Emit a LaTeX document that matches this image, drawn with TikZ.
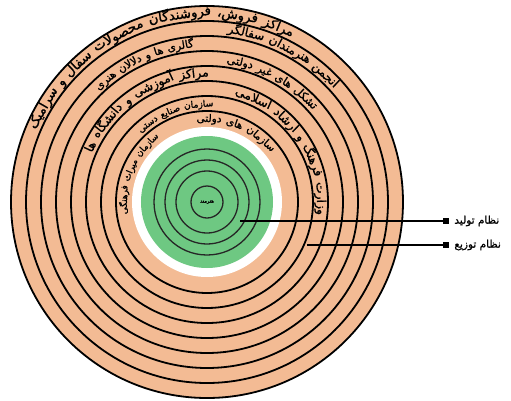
\documentclass[tikz,border=0pt]{standalone}
\usepackage{fontspec}
\newfontfamily\arabicfont[Script=Arabic,FakeBold=1.2]{DejaVu Sans}
\TeXXeTstate=1
\usepackage{tikz}
\usetikzlibrary{positioning}

\definecolor{ringfill}{RGB}{243,187,148}
\definecolor{corefill}{RGB}{110,200,130}

\newcommand\wordfont{\arabicfont\fontsize{8}{9}\selectfont}
\newcommand\wgap{3}
\newbox\wordbox
% word widths of one label, taken outside the picture: name, words
\newcommand\measurelabel[2]{%
  \xdef\sumwd{0}%
  \foreach \w [count=\i] in {#2}{%
    \setbox\wordbox=\hbox{\wordfont\beginR\w\endR}%
    \expandafter\xdef\csname #1wd\i\endcsname{\the\wd\wordbox}%
    \pgfmathsetmacro\wtmp{\sumwd+\the\wd\wordbox+\wgap}%
    \xdef\sumwd{\wtmp}}%
  \expandafter\xdef\csname #1sum\endcsname{\sumwd}}
% words of one label set along an arc: name, radius, start angle, end angle, words
\newcommand\arclabel[5]{%
  \pgfmathsetmacro\fitscale{((#4)-(#3))*pi/180*(#2)/\csname #1sum\endcsname}%
  \xdef\curang{#3}%
  \foreach \w [count=\i] in {#5}{%
    \pgfmathsetmacro\whalf{(\csname #1wd\i\endcsname+\wgap)*\fitscale/2/(#2)*180/pi}%
    \pgfmathsetmacro\wmid{\curang+\whalf}%
    \node[word,rotate=\wmid-90,scale=\fitscale] (#1-\i) at (\wmid:#2) {\beginR\w\endR};
    \pgfmathsetmacro\wtmp{\curang+2*\whalf}%
    \xdef\curang{\wtmp}}%
}

\begin{document}
\measurelabel{sales}{مراکز,فروش،,فروشندگان,محصولات,سفال,و,سرامیک}
\measurelabel{assoc}{انجمن,هنرمندان,سفالگر}
\measurelabel{gallery}{گالری,ها,و,دلالان,هنری}
\measurelabel{ngo}{تشکل,های,غیر,دولتی}
\measurelabel{edu}{مراکز,آموزشی,و,دانشگاه,ها}
\measurelabel{ministry}{وزارت,فرهنگ,و,ارشاد,اسلامی}
\measurelabel{crafts}{سازمان,صنایع,دستی}
\measurelabel{gov}{سازمان,های,دولتی}
\measurelabel{heritage}{سازمان,میراث,فرهنگی}
\begin{tikzpicture}[x=1pt,y=1pt,
  ring/.style={draw=black,line width=1.8pt},
  corering/.style={draw=black!85,line width=1.3pt},
  word/.style={anchor=base,inner sep=0pt,font=\wordfont},
  leg/.style={anchor=west,inner sep=0pt,font=\arabicfont\fontsize{10.5}{12}\selectfont},
  legbox/.style={fill=black,minimum size=6pt,inner sep=0pt},
  lead/.style={line width=1.6pt}
]
\useasboundingbox (-207,-198) rectangle (304,202);

% distribution rings
\fill[ringfill] (0,0) circle (196);
\foreach \r in {196,181,...,91}
  \draw[ring] (0,0) circle (\r);
\fill[white] (0,0) circle (75);

% production core
\fill[corefill] (0,0) circle (66);
\foreach \r in {53,42,31}
  \draw[corering] (0,0) circle (\r);
\node[circle,corering,minimum size=32pt,inner sep=0pt,
      font=\arabicfont\fontsize{5}{6}\selectfont] (artist) at (0,0) {\beginR هنرمند\endR};

% ring labels
\arclabel{sales}{185}{62}{158}{مراکز,فروش،,فروشندگان,محصولات,سفال,و,سرامیک}
\arclabel{assoc}{170}{41}{84}{انجمن,هنرمندان,سفالگر}
\arclabel{gallery}{155}{94}{135}{گالری,ها,و,دلالان,هنری}
\arclabel{ngo}{140}{40}{83}{تشکل,های,غیر,دولتی}
\arclabel{edu}{125}{88}{158}{مراکز,آموزشی,و,دانشگاه,ها}
\arclabel{ministry}{110}{-8}{77}{وزارت,فرهنگ,و,ارشاد,اسلامی}
\arclabel{crafts}{95}{85}{135}{سازمان,صنایع,دستی}
\arclabel{gov}{80}{36}{99}{سازمان,های,دولتی}
\arclabel{heritage}{80}{125}{190}{سازمان,میراث,فرهنگی}

% legend
\node[legbox] (prodbox) at (239,-19) {};
\node[leg,right=5pt of prodbox] (prodtxt) {\beginR نظام تولید\endR};
\coordinate (prodend) at (33,-19);
\draw[lead] (prodend) -- (prodbox);

\node[legbox] (distbox) at (239,-43) {};
\node[leg,right=5pt of distbox] (disttxt) {\beginR نظام توزیع\endR};
\coordinate (distend) at (100,-43);
\draw[lead] (distend) -- (distbox);
\end{tikzpicture}
\end{document}
